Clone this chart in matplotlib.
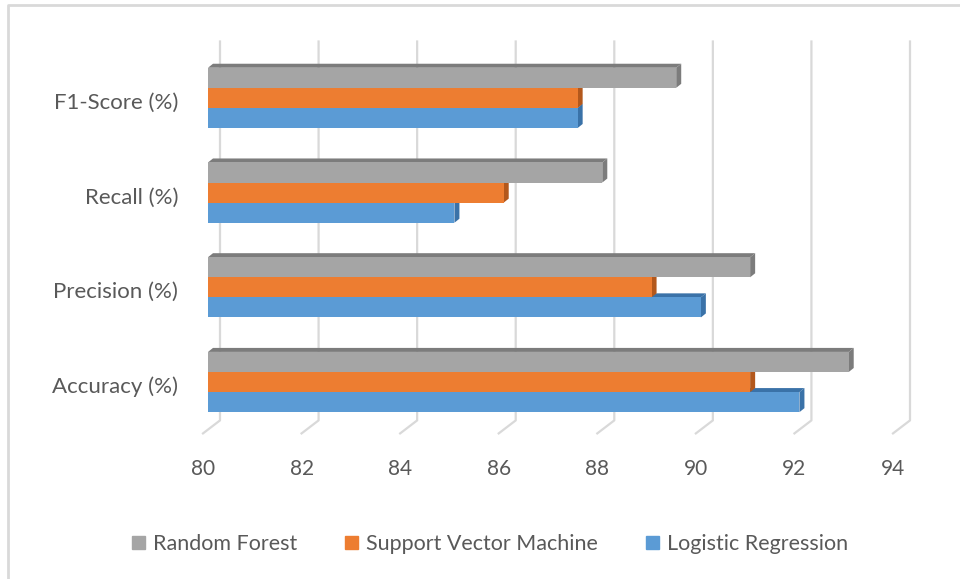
import numpy as np
import matplotlib
matplotlib.use("Agg")
import matplotlib.pyplot as plt
from matplotlib.patches import Polygon, Rectangle
from matplotlib.transforms import offset_copy, IdentityTransform
from matplotlib.lines import Line2D

plt.rcParams['font.family'] = ['Lato', 'DejaVu Sans']

metrics = ['Accuracy (%)', 'Precision (%)', 'Recall (%)', 'F1-Score (%)']
models = ['Logistic Regression', 'Support Vector Machine', 'Random Forest']
logreg = [92, 90, 85, 87.5]
svm = [91, 89, 86, 87.5]
rforest = [93, 91, 88, 89.5]
ticks = [80, 82, 84, 86, 88, 90, 92, 94]

colors = ['#5B9BD5', '#ED7D31', '#A5A5A5']
side_colors = ['#3a72a8', '#b3581c', '#7c7c7c']
text_col = '#595959'
grid_col = '#d9d9d9'

W, H = 960, 579
fig = plt.figure(figsize=(W / 100, H / 100), dpi=100)
ax = fig.add_axes([208 / W, 149.6 / H, 690 / W, 378.9 / H])
ax.set_xlim(80, 94)
ax.set_ylim(-0.5, 3.5)
ax.axis('off')

def px(x, y, dx=0, dy=0):
    p = ax.transData.transform((x, y))
    return (p[0] + dx, p[1] + dy)

# pixel offsets for the pseudo-3d box
wall = (12, 9)
front = (-5, -4)
depth = (5, 4)

# back wall gridlines and floor lines
for v in ticks:
    top = px(v, 3.5, *wall)
    bot = px(v, -0.5, *wall)
    ff = px(v, -0.5, *front)
    fig.add_artist(Line2D([top[0], bot[0], ff[0]], [top[1], bot[1], ff[1]],
                          transform=IdentityTransform(), color=grid_col,
                          lw=1.6, zorder=0))
    ax.text(v, -0.5, str(v), ha='center', va='center', fontsize=15,
            color=text_col,
            transform=offset_copy(ax.transData, fig, x=-5, y=-40, units='dots'))

series = [logreg, svm, rforest]
h = 0.212
y = np.arange(len(metrics))
z = 2
for k, vals in enumerate(series):
    offs = (k - 1) * h
    for i, v in enumerate(vals):
        y0 = y[i] + offs - h / 2
        y1 = y[i] + offs + h / 2
        a = px(80, y1)
        b = px(v, y1)
        c = px(v, y0)
        topf = [a, b, (b[0] + depth[0], b[1] + depth[1]),
                (a[0] + depth[0], a[1] + depth[1])]
        side = [c, b, (b[0] + depth[0], b[1] + depth[1]),
                (c[0] + depth[0], c[1] + depth[1])]
        ax.add_patch(Polygon(topf, closed=True, transform=IdentityTransform(),
                             facecolor=side_colors[k], edgecolor='none', zorder=z))
        ax.add_patch(Polygon(side, closed=True, transform=IdentityTransform(),
                             facecolor=side_colors[k], edgecolor='none', zorder=z))
    ax.barh(y + offs, np.array(vals) - 80, left=80, height=h,
            color=colors[k], edgecolor='none', zorder=z + 1)
    z += 2

for i, m in enumerate(metrics):
    ax.text(80, y[i], m, ha='right', va='center', fontsize=16, color=text_col,
            transform=offset_copy(ax.transData, fig, x=-30, y=-5, units='dots'))

# legend (series listed in reverse order)
handles = [Rectangle((0, 0), 1, 1, color=colors[k]) for k in [2, 1, 0]]
labels = [models[k] for k in [2, 1, 0]]
fig.legend(handles, labels, loc='center', bbox_to_anchor=(490 / W, 35 / H),
           ncol=3, frameon=False, fontsize=15.5, labelcolor=text_col,
           handlelength=0.6, handleheight=0.6, handletextpad=0.4,
           columnspacing=2.2)

# outer frame
fig.add_artist(Line2D([8 / W, 8 / W, 1], [0, 1 - 5 / H, 1 - 5 / H],
                      transform=fig.transFigure, color=grid_col, lw=2))

fig.savefig('out.png', dpi=100, facecolor='white')
